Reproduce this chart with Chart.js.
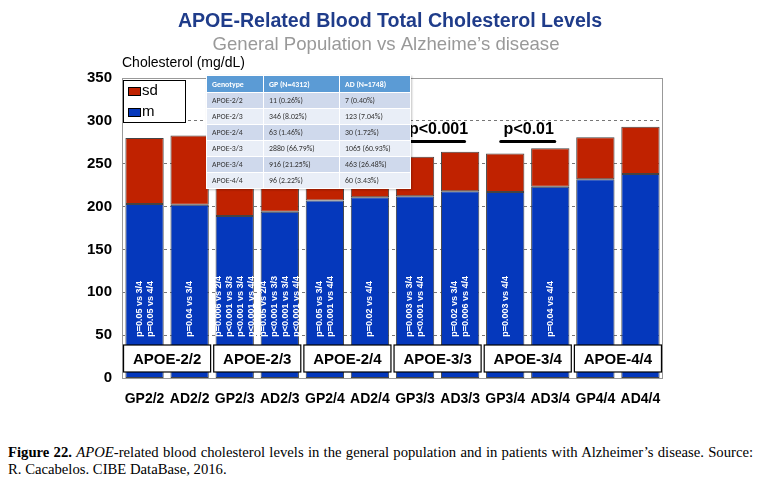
<!DOCTYPE html>
<html>
<head>
<meta charset="utf-8">
<script src="https://cdn.jsdelivr.net/npm/chart.js@4/dist/chart.umd.min.js"></script>
<style>
  body { margin: 0; background: #fff; }
  #wrap { position: relative; width: 760px; height: 482px; overflow: hidden; }
  #stats { position: absolute; left: 0; top: 0; }
  table.gt { position: absolute; left: 206px; top: 75px; border-collapse: collapse;
             font-family: Calibri, "Noto Sans", sans-serif; font-size: 7.8px; color: #333;
             box-shadow: 1px 1px 2px rgba(0,0,0,0.25); }
  table.gt td, table.gt th { padding: 0 0 0 5px; height: 15px; text-align: left; border: 1px solid #fff; white-space: nowrap; }
  table.gt th { background: #5b9bd5; color: #fff; font-weight: bold; height: 16px; }
  table.gt tr:nth-child(even) td { background: #cfd9ec; }
  table.gt tr:nth-child(odd) td { background: #e9eef7; }
  .cap { position: absolute; left: 8px; top: 444px; width: 745px; font-family: "Liberation Serif", "Times New Roman", serif;
         font-size: 14.7px; line-height: 17px; color: #000; }
  .cap .l1 { text-align: justify; text-align-last: justify; white-space: nowrap; }
</style>
</head>
<body>
<div id="wrap">
  <canvas id="stats" width="760" height="418"></canvas>
  <table class="gt" id="gt"></table>
  <div class="cap"><div class="l1"><b>Figure 22.</b> <i>APOE</i>-related blood cholesterol levels in the general population and in patients with Alzheimer’s disease. Source:</div><div>R. Cacabelos. CIBE DataBase, 2016.</div></div>
</div>
<script>
// chart data
var categories = ['GP2/2', 'AD2/2', 'GP2/3', 'AD2/3', 'GP2/4', 'AD2/4', 'GP3/3', 'AD3/3', 'GP3/4', 'AD3/4', 'GP4/4', 'AD4/4'];
var meanVals = [203, 202, 189, 194, 207, 211, 212, 218, 217, 223, 232, 238];
var sdVals   = [77, 81, 66, 68, 51, 34, 46, 46, 45, 45, 49, 55];
var groupLabels = ['APOE-2/2', 'APOE-2/3', 'APOE-2/4', 'APOE-3/3', 'APOE-3/4', 'APOE-4/4'];
var pTexts = [
    ['p=0.05 vs 3/4', 'p=0.05 vs 4/4'],
    ['p=0.04 vs 3/4'],
    ['p=0.006 vs 2/4', 'p<0.001 vs 3/3', 'p<0.001 vs 3/4', 'p<0.001 vs 4/4'],
    ['p=0.05 vs 2/4', 'p<0.001 vs 3/3', 'p<0.001 vs 3/4', 'p<0.001 vs 4/4'],
    ['p=0.05 vs 3/4', 'p=0.001 vs 4/4'],
    ['p=0.02 vs 4/4'],
    ['p=0.003 vs 3/4', 'p<0.001 vs 4/4'],
    ['p=0.02 vs 3/4', 'p=0.006 vs 4/4'],
    ['p=0.003 vs 4/4'],
    ['p=0.04 vs 4/4'],
    [],
    []
];
var sigMarks = [{pair: 3, text: 'p<0.001'}, {pair: 4, text: 'p<0.01'}];
var yTicks = [0, 50, 100, 150, 200, 250, 300, 350];

// genotype table
var tableHead = ['Genotype', 'GP (N=4312)', 'AD (N=1748)'];
var tableGenotype = ['APOE-2/2', 'APOE-2/3', 'APOE-2/4', 'APOE-3/3', 'APOE-3/4', 'APOE-4/4'];
var tableGP = ['11 (0.26%)', '346 (8.02%)', '63 (1.46%)', '2880 (66.79%)', '916 (21.25%)', '96 (2.22%)'];
var tableAD = ['7 (0.40%)', '123 (7.04%)', '30 (1.72%)', '1065 (60.93%)', '463 (26.48%)', '60 (3.43%)'];

var RED = '#c02200', BLUE = '#0538bc';
var FONT = 'Arial, "Liberation Sans", sans-serif';

(function buildTable() {
    var t = document.getElementById('gt');
    var widths = [56, 75, 70];
    var h = '<tr>' + tableHead.map(function (s, i) { return '<th style="width:' + (widths[i] - 5) + 'px">' + s + '</th>'; }).join('') + '</tr>';
    for (var i = 0; i < tableGenotype.length; i++) {
        h += '<tr><td>' + tableGenotype[i] + '</td><td>' + tableGP[i] + '</td><td>' + tableAD[i] + '</td></tr>';
    }
    t.innerHTML = h;
})();

var decor = {
    id: 'decor',
    beforeDatasetsDraw: function (chart) {
        var a = chart.chartArea, ctx = chart.ctx;
        ctx.save();
        ctx.strokeStyle = '#999';
        ctx.lineWidth = 1;
        ctx.strokeRect(a.left + 0.5, a.top + 0.5, a.right - a.left - 1, a.bottom - a.top);
        ctx.restore();
    },
    afterDatasetsDraw: function (chart) {
        var ctx = chart.ctx, x = chart.scales.x, y = chart.scales.y;
        ctx.save();
        // p-value notes inside bars
        ctx.fillStyle = '#fff';
        ctx.font = 'bold 9px ' + FONT;
        ctx.textAlign = 'left';
        ctx.textBaseline = 'middle';
        var y0 = y.getPixelForValue(48);
        pTexts.forEach(function (lines, i) {
            var cx = x.getPixelForValue(i);
            lines.forEach(function (s, j) {
                var px = cx + (j - (lines.length - 1) / 2) * 11;
                ctx.save();
                ctx.translate(px, y0);
                ctx.rotate(-Math.PI / 2);
                ctx.fillText(s, 0, 0);
                ctx.restore();
            });
        });
        // group label boxes
        ctx.font = 'bold 15px ' + FONT;
        ctx.textAlign = 'center';
        groupLabels.forEach(function (g, k) {
            var l = x.getPixelForValue(2 * k) - 21, r = x.getPixelForValue(2 * k + 1) + 21;
            var t = y.getPixelForValue(38.5), b = y.getPixelForValue(7);
            ctx.fillStyle = '#fff';
            ctx.fillRect(l, t, r - l, b - t);
            ctx.strokeStyle = '#000';
            ctx.lineWidth = 1.2;
            ctx.strokeRect(l, t, r - l, b - t);
            ctx.fillStyle = '#000';
            ctx.fillText(g, (l + r) / 2, (t + b) / 2 + 1);
        });
        // significance marks
        ctx.font = 'bold 16px ' + FONT;
        sigMarks.forEach(function (m) {
            var c = (x.getPixelForValue(2 * m.pair) + x.getPixelForValue(2 * m.pair + 1)) / 2;
            ctx.fillStyle = '#000';
            ctx.fillText(m.text, c + 1, y.getPixelForValue(290));
            ctx.strokeStyle = '#000';
            ctx.lineWidth = 3;
            ctx.lineCap = 'round';
            ctx.beginPath();
            ctx.moveTo(c - 27, y.getPixelForValue(276));
            ctx.lineTo(c + 27, y.getPixelForValue(276));
            ctx.stroke();
        });
        ctx.restore();
    },
    afterDraw: function (chart) {
        var ctx = chart.ctx, a = chart.chartArea;
        ctx.save();
        ctx.textBaseline = 'middle';
        ctx.textAlign = 'center';
        ctx.fillStyle = '#1f3c8a';
        ctx.font = 'bold 19.6px ' + FONT;
        ctx.fillText('APOE-Related Blood Total Cholesterol Levels', 390, 22);
        ctx.fillStyle = '#999';
        ctx.font = '18.6px ' + FONT;
        ctx.fillText('General Population vs Alzheime’s disease', 386, 45);
        ctx.textAlign = 'left';
        ctx.fillStyle = '#000';
        ctx.font = '14px ' + FONT;
        ctx.fillText('Cholesterol (mg/dL)', a.left, 63);
        // legend
        ctx.fillStyle = '#fff';
        ctx.fillRect(a.left + 1, a.top + 2, 62, 42);
        ctx.strokeStyle = '#000';
        ctx.lineWidth = 1;
        ctx.strokeRect(a.left + 1.5, a.top + 2.5, 62, 42);
        ctx.font = '15px ' + FONT;
        [[RED, 'sd', 13], [BLUE, 'm', 34]].forEach(function (e) {
            ctx.fillStyle = e[0];
            ctx.fillRect(a.left + 6, a.top + e[2] - 4, 12, 8);
            ctx.strokeStyle = '#000';
            ctx.strokeRect(a.left + 6.5, a.top + e[2] - 3.5, 12, 8);
            ctx.fillStyle = '#000';
            ctx.fillText(e[1], a.left + 20, a.top + e[2]);
        });
        ctx.restore();
    }
};

new Chart(document.getElementById('stats').getContext('2d'), {
    type: 'bar',
    data: {
        labels: categories,
        datasets: [
            { label: 'm', data: meanVals, backgroundColor: BLUE, borderColor: '#444', borderWidth: 1, borderSkipped: false,
              barPercentage: 0.85, categoryPercentage: 1 },
            { label: 'sd', data: sdVals, backgroundColor: RED, borderColor: '#444', borderWidth: 1, borderSkipped: false,
              barPercentage: 0.85, categoryPercentage: 1 }
        ]
    },
    options: {
        responsive: false,
        animation: false,
        layout: { padding: { top: 78, right: 97, left: 0, bottom: 0 } },
        plugins: { legend: { display: false }, tooltip: { enabled: false }, title: { display: false } },
        scales: {
            x: {
                stacked: true,
                grid: { display: false },
                border: { display: false },
                ticks: { color: '#000', padding: 5, maxRotation: 0, minRotation: 0, autoSkip: false,
                         font: { family: FONT, size: 14, weight: 'bold' } },
                afterFit: function (s) { s.height = 40; }
            },
            y: {
                stacked: true,
                min: 0, max: 350,
                afterBuildTicks: function (s) { s.ticks = yTicks.map(function (v) { return { value: v }; }); },
                grid: { color: '#777', drawTicks: false, lineWidth: function (c) { return (c.tick.value === 0 || c.tick.value === 350) ? 0 : 1; } },
                border: { display: false, dash: [3, 3] },
                ticks: { color: '#000', padding: 10, font: { family: FONT, size: 15, weight: 'bold' } },
                afterFit: function (s) { s.width = 122; }
            }
        }
    },
    plugins: [decor]
});
</script>
</body>
</html>
